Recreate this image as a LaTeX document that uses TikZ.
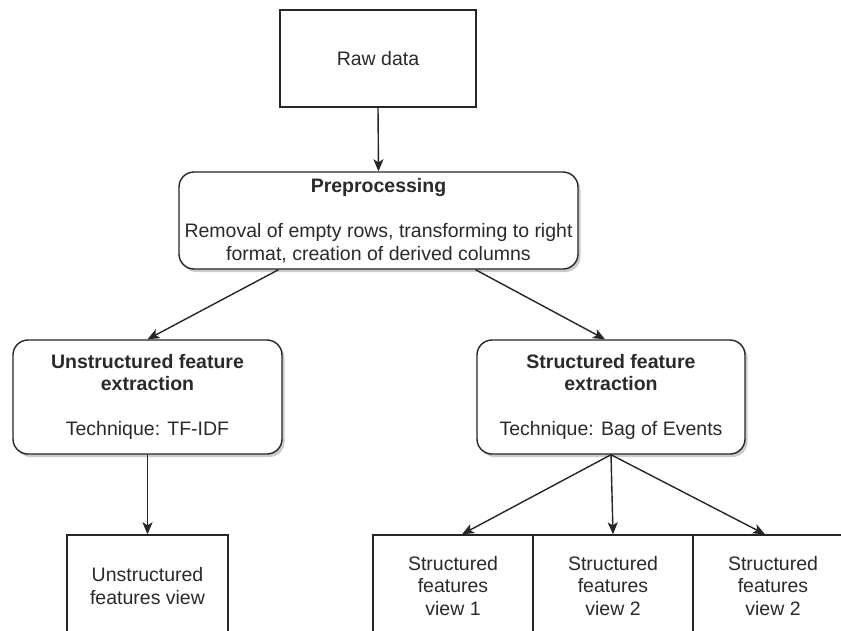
\documentclass[tikz,border=0pt]{standalone}
\usepackage{fontspec}
\setmainfont{Liberation Sans}
\usetikzlibrary{arrows.meta,shadows,calc}
\definecolor{ink}{HTML}{2A2A2A}
\definecolor{edge}{HTML}{262626}
\tikzset{
  every node/.style={font=\fontsize{19.5}{22.5}\selectfont, text=ink, align=center, inner sep=0pt},
  plainbox/.style={draw=edge, line width=1.4pt, fill=white},
  roundbox/.style={plainbox, rounded corners=15pt,
    drop shadow={shadow xshift=2.5pt, shadow yshift=-3pt, fill=black!25, opacity=0.8}},
  flow/.style={draw=edge, line width=1.4pt,
    -{Stealth[length=12pt,width=10pt,inset=3pt]}}
}
\begin{document}
\begin{tikzpicture}[x=1pt,y=-1pt]
  \useasboundingbox (0,0) rectangle (841,630);
  \clip (0,0) rectangle (841,630);
  \fill[white] (0,0) rectangle (841,630);

  % source and preprocessing
  \node[plainbox, minimum width=196pt, minimum height=97pt] (raw) at (378,58.5) {Raw data};
  \node[roundbox, minimum width=399pt, minimum height=97pt] (pre) at (378.5,220.5)
    {\textbf{Preprocessing}\\[22.5pt]Removal of empty rows, transforming to right\\format, creation of derived columns};

  % feature extraction
  \node[roundbox, minimum width=269pt, minimum height=114pt] (unstr) at (147.5,397)
    {\textbf{Unstructured feature}\\\textbf{extraction}\\[22.5pt]Technique: TF-IDF};
  \node[roundbox, minimum width=268pt, minimum height=114pt] (str) at (611,397)
    {\textbf{Structured feature}\\\textbf{extraction}\\[22.5pt]Technique: Bag of Events};

  % feature views
  \node[plainbox, minimum width=161pt, minimum height=102pt] (uview) at (147.5,586)
    {Unstructured\\features view};
  \node[plainbox, minimum width=160pt, minimum height=102pt] (v1) at (453,586)
    {Structured\\features\\view 1};
  \node[plainbox, minimum width=160pt, minimum height=102pt] (v2) at (613,586)
    {Structured\\features\\view 2};
  \node[plainbox, minimum width=160pt, minimum height=102pt] (v3) at (773,586)
    {Structured\\features\\view 2};

  % connectors
  \draw[flow] (raw.south) -- (pre.north);
  \draw[flow] ($(pre.south)+(-100,0)$) -- (unstr.north);
  \draw[flow] ($(pre.south)+(97,0)$) -- ($(str.north)+(-6,0)$);
  \draw[flow] (unstr.south) -- (uview.north);
  \draw[flow] (str.south) -- ($(v1.north)+(9,0)$);
  \draw[flow] (str.south) -- (v2.north);
  \draw[flow] (str.south) -- ($(v3.north)+(-8,0)$);
\end{tikzpicture}
\end{document}
